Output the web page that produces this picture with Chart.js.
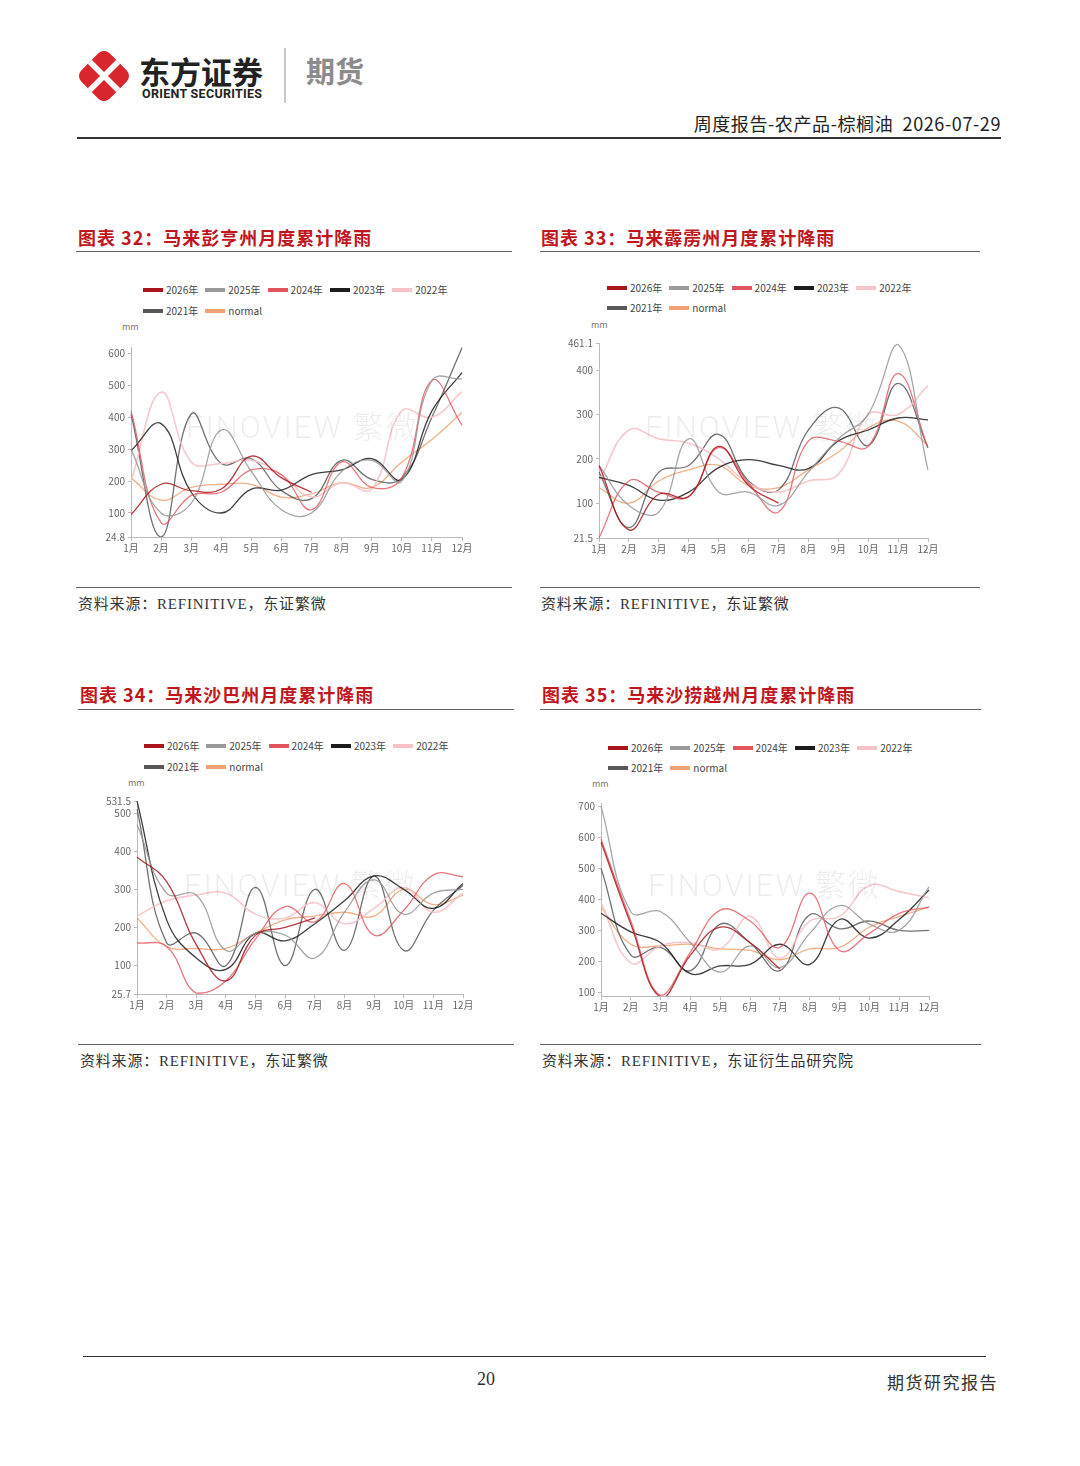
<!DOCTYPE html>
<html><head><meta charset="utf-8">
<script src="https://cdn.jsdelivr.net/npm/chart.js@4"></script>
<style>
html,body{margin:0;padding:0;background:#fff;}
body{width:1080px;height:1466px;position:relative;overflow:hidden;font-family:"Noto Sans CJK SC","Noto Sans",sans-serif;}
.a{position:absolute;white-space:nowrap;}
.hl{position:absolute;height:1px;background:#666;}
.title{position:absolute;color:#c0161d;font-size:18px;font-weight:700;letter-spacing:1px;white-space:nowrap;font-family:"Noto Sans CJK SC",sans-serif;}
.src{position:absolute;color:#333;font-size:15px;letter-spacing:0.8px;white-space:nowrap;font-family:"Liberation Serif","Noto Sans CJK SC",serif;}
.leg{position:absolute;font-size:10px;color:#444;white-space:nowrap;}
.leg span.b{position:absolute;width:20px;height:4px;top:-2px;}
.leg span.t{position:absolute;top:-8px;line-height:16px;}
.mm{position:absolute;font-size:9px;color:#777;}
.wm{position:absolute;font-family:Roboto,"Noto Sans CJK SC",sans-serif;font-weight:300;font-size:31px;letter-spacing:2px;color:rgba(0,0,0,0.07);white-space:nowrap;pointer-events:none;z-index:5;}
.cbox{position:absolute;}
</style></head>
<body>
<!-- header -->
<svg class="a" style="left:76px;top:46px" width="56" height="60" viewBox="0 0 56 60">
  <defs><clipPath id="dc"><rect x="8" y="10" width="40" height="40" rx="8" transform="rotate(45 28 30)"/></clipPath></defs>
  <rect x="8" y="10" width="40" height="40" rx="8" transform="rotate(45 28 30)" fill="#d7262c"/>
  <g clip-path="url(#dc)" stroke="#fff" stroke-width="5.5">
    <line x1="4" y1="6" x2="52" y2="54"/><line x1="52" y1="6" x2="4" y2="54"/>
  </g>
</svg>
<div class="a" style="left:139px;top:48px;font-size:31px;font-weight:700;color:#222;letter-spacing:0px;">东方证券</div>
<div class="a" style="left:142px;top:86px;font-size:12.5px;font-weight:700;color:#222;font-family:Roboto,'Noto Sans',sans-serif;letter-spacing:0.3px;">ORIENT SECURITIES</div>
<div class="a" style="left:284px;top:48px;width:1.5px;height:55px;background:#c8c8c8;"></div>
<div class="a" style="left:306px;top:49px;font-size:29px;font-weight:700;color:#8c8c8c;">期货</div>
<div class="a" style="right:79px;top:110px;font-size:18px;color:#222;letter-spacing:0.6px;">周度报告-农产品-棕榈油&nbsp;&nbsp;2026-07-29</div>
<div class="a" style="left:77px;top:137px;width:924px;height:1.5px;background:#333;"></div>

<!-- titles -->
<div class="title" style="left:78px;top:224px;">图表 32：马来彭亨州月度累计降雨</div>
<div class="hl" style="left:76px;top:251px;width:436px;"></div>
<div class="title" style="left:541px;top:224px;">图表 33：马来霹雳州月度累计降雨</div>
<div class="hl" style="left:540px;top:251px;width:440px;"></div>
<div class="title" style="left:80px;top:681px;">图表 34：马来沙巴州月度累计降雨</div>
<div class="hl" style="left:78px;top:709px;width:436px;"></div>
<div class="title" style="left:542px;top:681px;">图表 35：马来沙捞越州月度累计降雨</div>
<div class="hl" style="left:540px;top:709px;width:441px;"></div>

<div class="hl" style="left:76px;top:587px;width:436px;"></div>
<div class="src" style="left:78px;top:592px;">资料来源：REFINITIVE，东证繁微</div>
<div class="hl" style="left:540px;top:587px;width:440px;"></div>
<div class="src" style="left:541px;top:592px;">资料来源：REFINITIVE，东证繁微</div>
<div class="hl" style="left:78px;top:1044px;width:436px;"></div>
<div class="src" style="left:80px;top:1049px;">资料来源：REFINITIVE，东证繁微</div>
<div class="hl" style="left:540px;top:1044px;width:441px;"></div>
<div class="src" style="left:542px;top:1049px;">资料来源：REFINITIVE，东证衍生品研究院</div>

<!-- footer -->
<div class="a" style="left:83px;top:1356px;width:903px;height:1px;background:#333;"></div>
<div class="a" style="left:466px;top:1369px;width:40px;text-align:center;font-size:18px;color:#333;font-family:'Liberation Serif',serif;">20</div>
<div class="a" style="left:887px;top:1369px;font-size:17px;color:#333;letter-spacing:1.5px;font-family:'Noto Sans CJK SC',serif;">期货研究报告</div>

<div id="charts"></div>

<script>
// ---------- data ----------
const months = ['1月','2月','3月','4月','5月','6月','7月','8月','9月','10月','11月','12月'];
const seriesNames = ['2026年','2025年','2024年','2023年','2022年','2021年','normal'];

// 图表32 马来彭亨州
const pahang2026 = [95, 190, 170, 175, 278, 210, 165];
const pahang2025 = [300, 100, 130, 360, 230, 110, 100, 230, 265, 200, 515, 520];
const pahang2024 = [420, 70, 155, 165, 235, 220, 110, 260, 180, 210, 515, 375];
const pahang2023 = [295, 380, 165, 100, 175, 172, 220, 235, 270, 205, 420, 540];
const pahang2022 = [200, 478, 260, 255, 265, 220, 150, 195, 175, 420, 400, 480];
const pahang2021 = [410, 25, 410, 255, 270, 170, 145, 265, 205, 210, 400, 618];
const pahangNormal = [210, 140, 180, 190, 190, 150, 160, 195, 180, 260, 330, 415];
const pahangTicks = [24.8, 100, 200, 300, 400, 500, 600];

// 图表33 马来霹雳州
const perak2026 = [185, 40, 120, 115, 228, 140, 100];
const perak2025 = [185, 95, 80, 245, 125, 125, 95, 170, 245, 300, 458, 175];
const perak2024 = [22, 150, 125, 115, 225, 145, 80, 240, 240, 228, 392, 225];
const perak2023 = [158, 140, 107, 125, 180, 198, 185, 178, 240, 265, 292, 288];
const perak2022 = [150, 265, 245, 235, 200, 145, 125, 150, 165, 300, 300, 365];
const perak2021 = [170, 45, 170, 185, 255, 150, 130, 265, 315, 230, 370, 225];
const perakNormal = [135, 100, 150, 175, 185, 140, 135, 175, 215, 270, 285, 230];
const perakTicks = [21.5, 100, 200, 300, 400, 461.1];

// 图表34 马来沙巴州
const sabah2026 = [385, 320, 155, 60, 180, 200, 225];
const sabah2025 = [470, 290, 285, 140, 185, 180, 120, 240, 325, 235, 290, 300];
const sabah2024 = [160, 150, 28, 60, 170, 255, 215, 315, 180, 245, 338, 333];
const sabah2023 = [531.5, 220, 120, 90, 185, 165, 210, 270, 335, 300, 250, 315];
const sabah2022 = [230, 270, 285, 290, 235, 225, 265, 210, 250, 305, 240, 290];
const sabah2021 = [510, 160, 185, 100, 305, 100, 300, 140, 335, 140, 245, 310];
const sabahNormal = [225, 150, 145, 145, 185, 220, 230, 240, 230, 300, 260, 285];
const sabahTicks = [25.7, 100, 200, 300, 400, 500, 531.5];

// 图表35 马来沙捞越州
const sarawak2026 = [585, 320, 85, 220, 310, 260, 175];
const sarawak2025 = [700, 360, 360, 260, 165, 250, 180, 290, 380, 320, 300, 440];
const sarawak2024 = [595, 330, 90, 230, 365, 330, 245, 420, 235, 290, 355, 375];
const sarawak2023 = [355, 295, 260, 160, 185, 190, 255, 190, 335, 275, 335, 430];
const sarawak2022 = [390, 195, 250, 260, 240, 345, 210, 330, 345, 445, 425, 405];
const sarawak2021 = [500, 220, 245, 170, 320, 260, 170, 350, 305, 330, 300, 300];
const sarawakNormal = [375, 255, 250, 255, 240, 235, 205, 240, 245, 310, 345, 375];
const sarawakTicks = [100, 200, 300, 400, 500, 600, 700];

// ---------- styling ----------
const colors = ['#a8161c', '#9a9a9a', '#e2545e', '#1c1c1c', '#f5c3c7', '#585858', '#f0a272'];
const lineColors = ['rgba(168,22,28,0.85)', 'rgba(150,150,150,0.85)', 'rgba(226,84,94,0.8)', 'rgba(28,28,28,0.85)', 'rgba(245,195,199,0.9)', 'rgba(88,88,88,0.85)', 'rgba(240,162,114,0.85)'];

const charts = [
  {series:[pahang2026,pahang2025,pahang2024,pahang2023,pahang2022,pahang2021,pahangNormal], ticks:pahangTicks, min:24.8, max:620,
   plot:{L:131,R:462,T:347,B:537}, legend:{x:143,y1:290,y2:311}, mm:{x:122,y:320}, wm:{x:186,y:402}},
  {series:[perak2026,perak2025,perak2024,perak2023,perak2022,perak2021,perakNormal], ticks:perakTicks, min:21.5, max:461.1,
   plot:{L:599,R:928,T:343,B:538}, legend:{x:607,y1:288,y2:308}, mm:{x:591,y:318}, wm:{x:645,y:402}},
  {series:[sabah2026,sabah2025,sabah2024,sabah2023,sabah2022,sabah2021,sabahNormal], ticks:sabahTicks, min:25.7, max:531.5,
   plot:{L:137,R:463,T:801,B:994}, legend:{x:144,y1:746,y2:767}, mm:{x:128,y:776}, wm:{x:184,y:860}},
  {series:[sarawak2026,sarawak2025,sarawak2024,sarawak2023,sarawak2022,sarawak2021,sarawakNormal], ticks:sarawakTicks, min:88, max:711,
   plot:{L:601,R:929,T:803,B:996}, legend:{x:608,y1:748,y2:768}, mm:{x:592,y:777}, wm:{x:648,y:860}}
];

const root = document.getElementById('charts');
function el(cls, style, html){ const d=document.createElement('div'); d.className=cls; Object.assign(d.style, style); if(html!==undefined) d.innerHTML=html; root.appendChild(d); return d; }

charts.forEach((c, ci) => {
  seriesNames.forEach((n, i) => {
    const row = i < 5 ? 0 : 1;
    const col = i < 5 ? i : i - 5;
    const x = c.legend.x + col * 62.3;
    const y = row === 0 ? c.legend.y1 : c.legend.y2;
    el('leg', {left:x+'px', top:y+'px'}, '<span class="b" style="left:0;background:'+colors[i]+'"></span><span class="t" style="left:23px">'+n+'</span>');
  });
  el('mm', {left:c.mm.x+'px', top:c.mm.y+'px'}, 'mm');
  el('wm', {left:c.wm.x+'px', top:c.wm.y+'px'}, 'FINOVIEW 繁微');

  const p = c.plot;
  const box = el('cbox', {left:(p.L-45)+'px', top:(p.T-10)+'px', width:(p.R-p.L+65)+'px', height:(p.B-p.T+35)+'px'});
  const cv = document.createElement('canvas'); box.appendChild(cv);

  const datasets = c.series.map((arr, i) => ({
    label: seriesNames[i], data: arr, borderColor: lineColors[i], backgroundColor: colors[i],
    borderWidth: i===4 ? 1.6 : 1.3, pointRadius: 0, tension: 0.42, fill: false
  }));

  new Chart(cv, {
    type: 'line',
    data: { labels: months, datasets },
    options: {
      responsive: true, maintainAspectRatio: false, animation: false,
      layout: { padding: {left:0, top:10, right:20, bottom:0} },
      plugins: { legend: {display:false}, tooltip: {enabled:false} },
      scales: {
        x: {
          offset: false,
          grid: { drawOnChartArea:false, drawTicks:true, tickLength:4, color:'#bbb' },
          border: { color:'#bbb', width:1 },
          ticks: { color:'#666', font:{size:10, family:'"Noto Sans CJK SC", sans-serif'}, padding:1, maxRotation:0, autoSkip:false },
          afterFit: s => { s.height = 25; s.paddingLeft = 0; s.paddingRight = 0; }
        },
        y: {
          min: c.min, max: c.max,
          grid: { drawOnChartArea:false, drawTicks:true, tickLength:3, color:'#bbb' },
          border: { color:'#bbb', width:1 },
          ticks: { color:'#666', font:{size:10, family:'"Noto Sans CJK SC", sans-serif'}, padding:3, autoSkip:false,
                   callback: v => String(v) },
          afterBuildTicks: s => { s.ticks = c.ticks.map(v => ({value:v})); },
          afterFit: s => { s.width = 45; s.paddingTop = 0; s.paddingBottom = 0; }
        }
      }
    }
  });
});
</script>
</body></html>
